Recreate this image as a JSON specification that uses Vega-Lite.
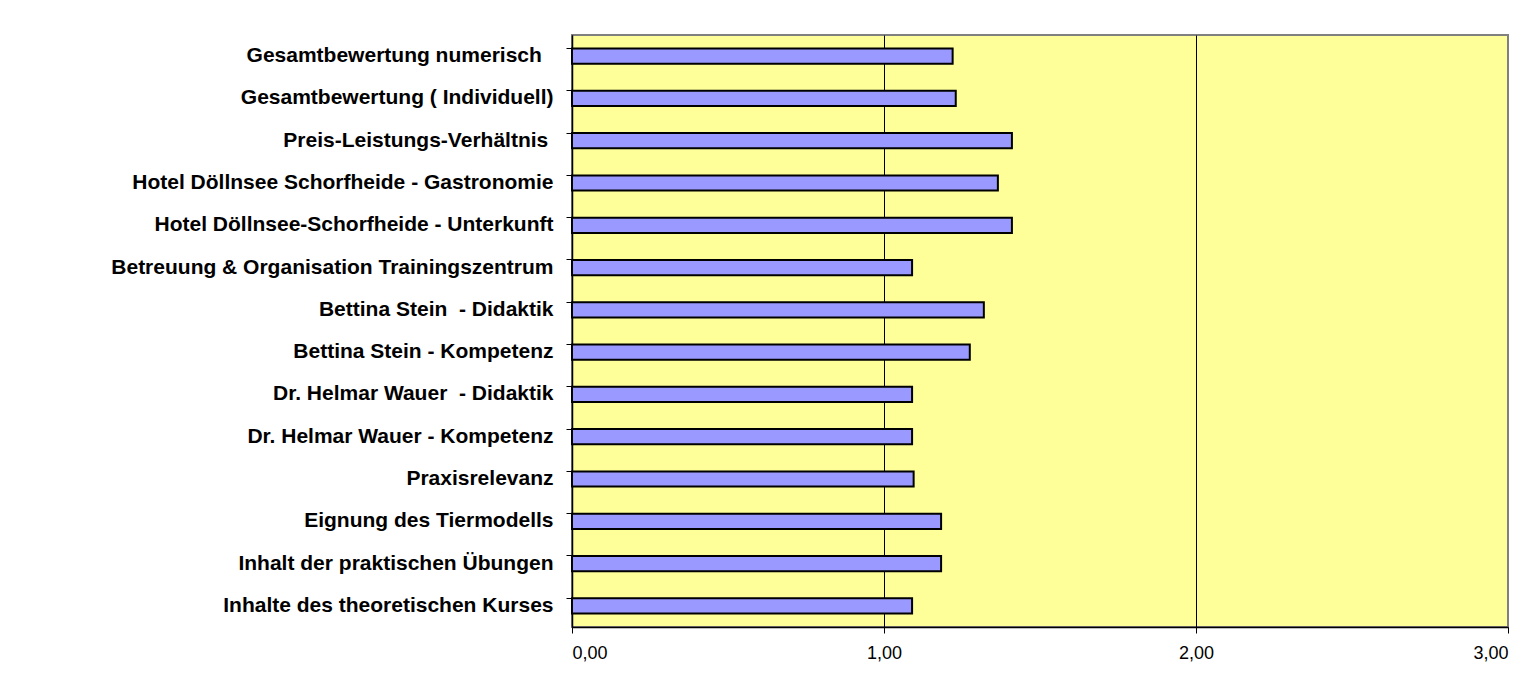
{
  "$schema": "https://vega.github.io/schema/vega-lite/v6.json",
  "autosize": {"type": "none"},
  "padding": {"left": 572, "top": 35, "right": 30, "bottom": 66},
  "width": 936,
  "height": 592,
  "background": "white",
  "data": {
    "values": [
      {"Kategorie": "Gesamtbewertung numerisch\u2007\u200b", "Wert": 1.22},
      {"Kategorie": "Gesamtbewertung ( Individuell)", "Wert": 1.23},
      {"Kategorie": "Preis-Leistungs-Verhältnis\u2005\u200b", "Wert": 1.41},
      {"Kategorie": "Hotel Döllnsee Schorfheide - Gastronomie", "Wert": 1.365},
      {"Kategorie": "Hotel Döllnsee-Schorfheide - Unterkunft", "Wert": 1.41},
      {"Kategorie": "Betreuung & Organisation Trainingszentrum", "Wert": 1.09},
      {"Kategorie": "Bettina Stein\u00a0 - Didaktik", "Wert": 1.32},
      {"Kategorie": "Bettina Stein - Kompetenz", "Wert": 1.275},
      {"Kategorie": "Dr. Helmar Wauer\u00a0 - Didaktik", "Wert": 1.09},
      {"Kategorie": "Dr. Helmar Wauer - Kompetenz", "Wert": 1.09},
      {"Kategorie": "Praxisrelevanz", "Wert": 1.095},
      {"Kategorie": "Eignung des Tiermodells", "Wert": 1.183},
      {"Kategorie": "Inhalt der praktischen Übungen", "Wert": 1.183},
      {"Kategorie": "Inhalte des theoretischen Kurses", "Wert": 1.09}
    ]
  },
  "mark": {"type": "bar", "fill": "#9999FF", "stroke": "black", "strokeWidth": 2},
  "encoding": {
    "y": {
      "field": "Kategorie",
      "type": "nominal",
      "sort": null,
      "scale": {"paddingInner": 0.64, "paddingOuter": 0.32},
      "axis": {
        "title": null,
        "bandPosition": 0,
        "tickSize": 6,
        "tickColor": "black",
        "tickWidth": 1,
        "domainColor": "black",
        "domainWidth": 1.5,
        "labelFont": "Liberation Sans",
        "labelFontWeight": "bold",
        "labelFontSize": 21,
        "labelColor": "black",
        "labelPadding": 13,
        "labelLimit": 600
      }
    },
    "x": {
      "field": "Wert",
      "type": "quantitative",
      "scale": {"domain": [0, 3], "nice": false, "zero": true},
      "axis": {
        "title": null,
        "values": [0, 1, 2, 3],
        "grid": true,
        "gridColor": {"condition": {"test": "datum.value == 3", "value": "#808080"}, "value": "black"},
        "gridWidth": 1,
        "gridOpacity": 1,
        "tickSize": 6,
        "tickColor": "black",
        "domainColor": "black",
        "domainWidth": 1.5,
        "labelFont": "Liberation Sans",
        "labelFontSize": 18,
        "labelColor": "black",
        "labelPadding": 11,
        "labelExpr": "replace(format(datum.value, '.2f'), '.', ',')"
      }
    }
  },
  "config": {
    "view": {"fill": "#FFFF99", "stroke": "#808080", "strokeWidth": 2}
  }
}
